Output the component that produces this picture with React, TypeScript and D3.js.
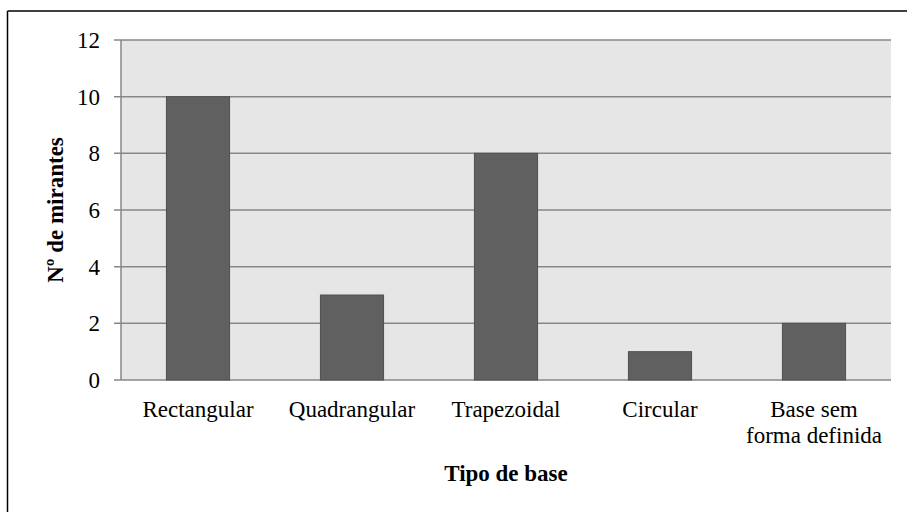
import React from 'react';
import * as d3 from 'd3';

const categories = ['Rectangular', 'Quadrangular', 'Trapezoidal', 'Circular', 'Base sem forma definida'];
const categoryLines = [['Rectangular'], ['Quadrangular'], ['Trapezoidal'], ['Circular'], ['Base sem', 'forma definida']];
const counts = [10, 3, 8, 1, 2];
const yTicks = [0, 2, 4, 6, 8, 10, 12];

const W = 907;
const H = 512;
const left = 121;
const right = 891;
const top = 40;
const bottom = 380;
const font = "'Liberation Serif', 'DejaVu Serif', serif";
const fs = 23;

export default function App() {
  const x = d3.scaleBand<string>().domain(categories).range([left, right]).paddingInner(0.59).paddingOuter(0.295);
  const y = d3.scaleLinear().domain([0, 12]).range([bottom, top]);

  return (
    <svg width={W} height={H} style={{ position: 'fixed', left: 0, top: 0, background: '#fff', fontFamily: font }}>
      {/* outer frame */}
      <line x1={7.5} x2={W} y1={11} y2={11} stroke="#000" strokeWidth={1.5} />
      <line x1={7.5} x2={7.5} y1={11} y2={H} stroke="#000" strokeWidth={1.5} />

      <rect x={left} y={top} width={right - left} height={bottom - top} fill="#e6e6e6" />

      {yTicks.map(t => (
        <g key={t}>
          <line x1={114} x2={right} y1={y(t)} y2={y(t)} stroke="#878787" strokeWidth={1.5} />
          <text x={100} y={y(t)} dy="0.35em" textAnchor="end" fontSize={fs} fill="#000">{t}</text>
        </g>
      ))}
      <line x1={left} x2={left} y1={top} y2={bottom} stroke="#878787" strokeWidth={1.5} />

      {counts.map((v, i) => (
        <rect key={i} x={x(categories[i])} y={y(v)} width={x.bandwidth()} height={y(0) - y(v)}
          fill="#606060" stroke="#505050" strokeWidth={1} />
      ))}

      {categoryLines.map((lines, i) => (
        <text key={i} textAnchor="middle" fontSize={fs} fill="#000">
          {lines.map((l, j) => (
            <tspan key={j} x={(x(categories[i]) as number) + x.bandwidth() / 2} y={417 + j * 26}>{l}</tspan>
          ))}
        </text>
      ))}

      <text x={(left + right) / 2} y={481} textAnchor="middle" fontSize={fs} fontWeight="bold">Tipo de base</text>
      <text transform={`translate(63,${(top + bottom) / 2}) rotate(-90)`} textAnchor="middle" fontSize={fs} fontWeight="bold">Nº de mirantes</text>
    </svg>
  );
}
